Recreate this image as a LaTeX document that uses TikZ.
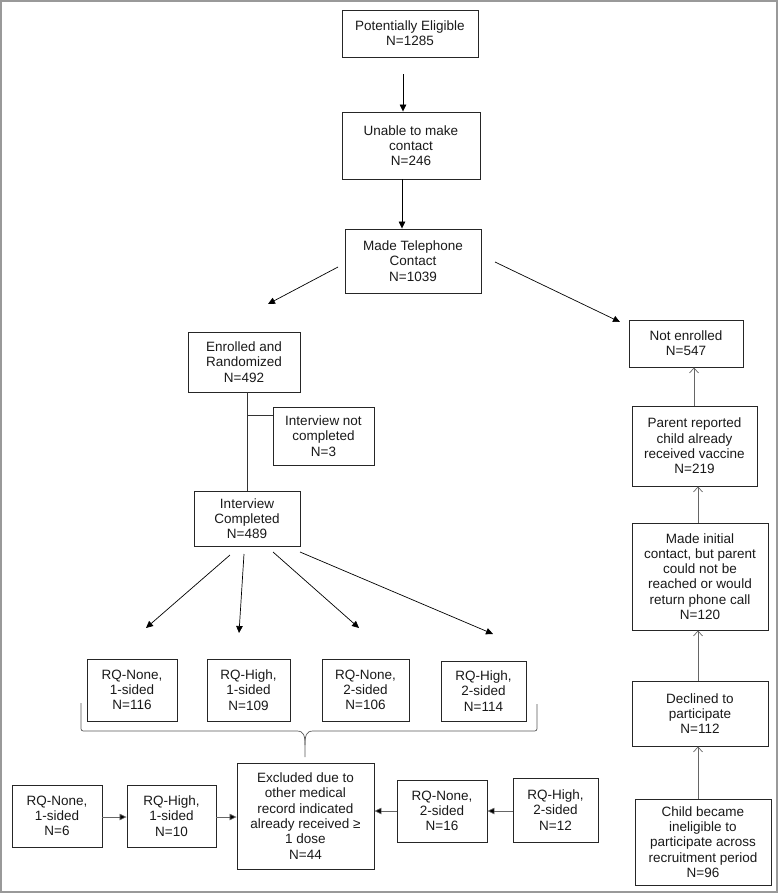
\documentclass[tikz,border=0pt]{standalone}
\usepackage{fontspec}
\setmainfont{Liberation Sans}
\usetikzlibrary{arrows.meta}
\begin{document}
\begin{tikzpicture}[x=1pt,y=-1pt,
  box/.style={draw=black!85, line width=0.9pt, align=center, inner sep=2pt,
    font=\fontsize{13.5}{15.3}\selectfont, text=black!90},
  arr/.style={line width=0.7pt, draw=black, -{Triangle[length=7pt,width=6.5pt]}},
  garr/.style={line width=0.7pt, draw=black!60, -{Triangle[length=7pt,width=6.5pt,fill=black]}},
  oarr/.style={line width=0.7pt, draw=black!60, -{Straight Barb[length=5pt,width=9pt]}},
  ln/.style={line width=0.7pt, draw=black!80},
  bracestyle/.style={line width=0.7pt, draw=black!65}]
\useasboundingbox (0,0) rectangle (779,894);
\draw[black!40, line width=1.5pt] (1,1) rectangle (777,892);

\node[box, minimum width=136pt, minimum height=47pt] (box1) at (410,33.5) {Potentially Eligible\\N=1285};
\node[box, minimum width=138pt, minimum height=67pt] (box2) at (411,145.5) {Unable to make\\contact\\N=246};
\node[box, minimum width=136pt, minimum height=64pt] (box3) at (413,261) {Made Telephone\\Contact\\N=1039};
\node[box, minimum width=112pt, minimum height=60pt] (enr) at (244,362) {Enrolled and\\Randomized\\N=492};
\node[box, minimum width=101pt, minimum height=58pt] (notc) at (323.5,436) {Interview not\\completed\\N=3};
\node[box, minimum width=106pt, minimum height=55pt] (intc) at (247,518.5) {Interview\\Completed\\N=489};
\node[box, minimum width=114pt, minimum height=47pt] (notenr) at (686,343.5) {Not enrolled\\N=547};
\node[box, minimum width=125pt, minimum height=80pt] (parent) at (694.5,446) {Parent reported\\child already\\received vaccine\\N=219};
\node[box, minimum width=136pt, minimum height=107pt] (minit) at (700,576.5) {Made initial\\contact, but parent\\could not be\\reached or would\\return phone call\\N=120};
\node[box, minimum width=136pt, minimum height=65pt] (decl) at (700,713.5) {Declined to\\participate\\N=112};
\node[box, minimum width=136pt, minimum height=86pt] (child) at (703,842) {Child became\\ineligible to\\participate across\\recruitment period\\N=96};

\node[box, minimum width=90pt, minimum height=62pt] (rqa) at (132,690) {RQ-None,\\1-sided\\N=116};
\node[box, minimum width=83pt, minimum height=62pt] (rqb) at (248.5,690) {RQ-High,\\1-sided\\N=109};
\node[box, minimum width=87pt, minimum height=62pt] (rqc) at (365.5,690) {RQ-None,\\2-sided\\N=106};
\node[box, minimum width=85pt, minimum height=60pt] (rqd) at (483.5,691) {RQ-High,\\2-sided\\N=114};

\node[box, minimum width=137pt, minimum height=106pt] (excl) at (305.5,816) {Excluded due to\\other medical\\record indicated\\already received ≥\\1 dose\\N=44};
\node[box, minimum width=90pt, minimum height=62pt] (b1) at (57,816) {RQ-None,\\1-sided\\N=6};
\node[box, minimum width=89pt, minimum height=62pt] (b2) at (171.5,816) {RQ-High,\\1-sided\\N=10};
\node[box, minimum width=90pt, minimum height=62pt] (b3) at (442,811) {RQ-None,\\2-sided\\N=16};
\node[box, minimum width=85pt, minimum height=64pt] (b4) at (555.5,810) {RQ-High,\\2-sided\\N=12};

% top arrows
\coordinate (a1) at (403,74);
\draw[arr] (a1) -- (a1 |- box2.north);
\coordinate (a2) at (402,0);
\draw[arr] (a2 |- box2.south) -- (a2 |- box3.north);
\coordinate (l1) at (338,267); \coordinate (l2) at (268,304);
\draw[arr] (l1) -- (l2);
\coordinate (r1) at (495,262); \coordinate (r2) at (620,322);
\draw[arr] (r1) -- (r2);

% enrolled branch
\coordinate (v) at (247,415);
\draw[ln] (v |- enr.south) -- (v |- intc.north);
\draw[ln] (v) -- (v -| notc.west);

% four arrows
\coordinate (s1) at (230,555); \coordinate (e1) at (146,628);
\coordinate (s2) at (244,554); \coordinate (e2) at (239,633);
\coordinate (s3) at (273,552); \coordinate (e3) at (359,628);
\coordinate (s4) at (300,552); \coordinate (e4) at (493,634);
\draw[arr] (s1) -- (e1);
\draw[arr] (s2) -- (e2);
\draw[arr] (s3) -- (e3);
\draw[arr] (s4) -- (e4);

% brace
\coordinate (bl) at (81,703); \coordinate (br) at (537,704); \coordinate (bt) at (305,757);
\draw[bracestyle] (bl) -- (81,726) .. controls (81,731) .. (86,731)
  -- (297,731) .. controls (304,731) and (305,736) .. (305,745) -- (bt);
\draw[bracestyle] (br) -- (537,726) .. controls (537,731) .. (532,731)
  -- (313,731) .. controls (306,731) and (305,736) .. (305,745);

% bottom arrows
\draw[garr] (b1.east |- 0,817) -- (b2.west |- 0,817);
\draw[garr] (b2.east |- 0,817) -- (excl.west |- 0,817);
\draw[garr] (b4.west |- 0,811) -- (b3.east |- 0,811);
\draw[garr] (b3.west |- 0,811) -- (excl.east |- 0,811);

% right column
\draw[oarr] (parent.north -| 694,0) -- (notenr.south -| 694,0);
\draw[oarr] (minit.north -| 698,0) -- (parent.south -| 698,0);
\draw[oarr] (decl.north -| 698,0) -- (minit.south -| 698,0);
\draw[oarr] (child.north -| 698,0) -- (decl.south -| 698,0);
\end{tikzpicture}
\end{document}
